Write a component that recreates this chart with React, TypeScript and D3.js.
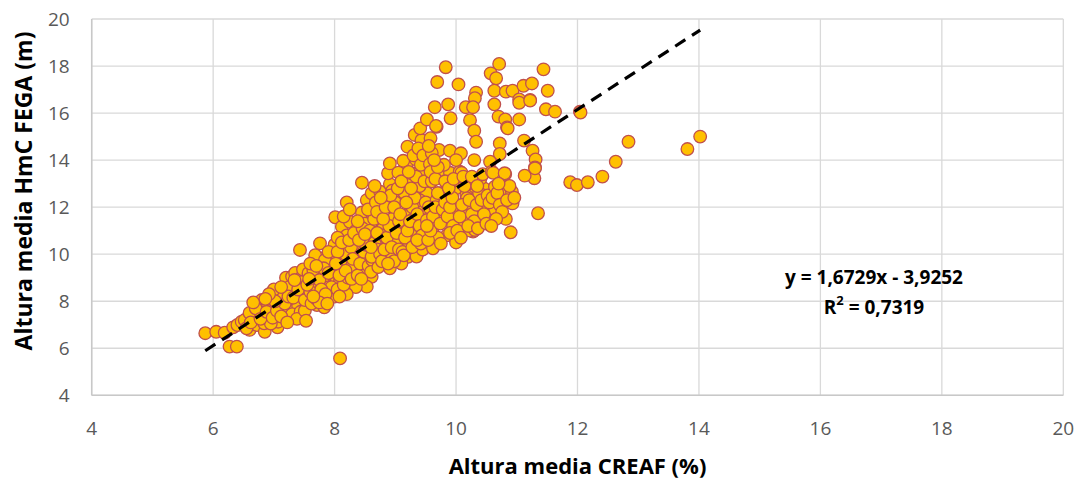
import React from 'react';
import * as d3 from 'd3';

// Altura media CREAF (x) vs Altura media HmC FEGA (y)
const lowBand: [number, number][] = [
  [5.87, 6.64], [6.05, 6.7], [6.19, 6.66], [6.27, 6.07], [6.39, 6.07], [6.33, 6.89], [6.4, 6.99],
  [6.47, 7.13], [6.52, 7.2], [6.6, 6.78], [6.69, 7.34], [6.72, 6.99], [6.85, 6.7], [6.84, 7.06],
  [6.8, 7.55], [6.94, 7.7], [6.8, 8.05], [6.9, 7.3], [7.06, 6.89], [7.07, 7.13], [6.96, 8.12],
  [7.1, 7.91], [7.22, 7.49], [7.27, 7.84], [7.29, 8.36], [7.38, 8.62], [7.36, 8.05], [7.27, 8.83],
  [7.18, 8.48], [7.2, 9.0], [7.3, 9.05], [7.43, 10.18], [7.0, 7.4], [6.75, 7.6], [6.6, 7.5],
  [6.9, 7.9], [7.15, 7.6], [7.4, 7.8], [7.45, 8.3], [7.35, 9.2], [7.45, 9.0], [7.1, 8.2],
  [6.55, 6.85], [6.95, 7.05], [7.2, 7.25], [7.3, 7.45], [7.48, 8.83], [7.25, 8.6], [7.0, 8.5],
  [6.62, 7.1], [6.7, 7.7], [6.78, 7.25], [6.88, 7.55], [6.98, 7.3], [7.05, 7.6], [7.12, 7.35],
  [7.18, 7.9], [7.24, 8.2], [7.32, 8.15], [7.4, 8.5], [7.44, 7.55], [7.38, 7.25], [7.12, 8.6],
  [7.02, 8.0], [6.92, 8.3], [7.22, 7.1], [7.48, 9.35], [7.34, 8.9], [6.66, 7.95], [6.86, 8.1],
];

const midBand: [number, number][] = [
  [7.51, 7.6], [7.53, 7.17], [7.51, 8.05], [7.57, 9.19], [7.69, 9.19], [7.66, 8.69], [7.72, 8.26],
  [7.87, 8.05], [7.71, 7.84], [7.83, 7.74], [7.92, 8.41], [7.92, 8.83], [8.03, 8.98], [8.12, 9.33],
  [8.12, 8.48], [7.79, 9.82], [7.92, 9.75], [8.03, 9.96], [8.17, 9.61], [7.68, 9.96], [7.76, 10.46],
  [8.01, 11.57], [8.12, 11.17], [8.25, 11.38], [8.45, 11.77], [8.45, 13.04], [8.2, 12.2], [8.53, 12.3],
  [7.84, 9.75], [7.65, 9.33], [8.09, 8.9], [8.2, 9.61], [8.34, 9.96], [8.31, 9.11], [8.45, 10.89],
  [8.61, 11.38], [8.61, 12.59], [8.75, 12.66], [8.64, 10.04], [8.69, 9.68], [8.61, 9.04], [8.53, 8.62],
  [8.3, 10.5], [8.15, 10.2], [8.4, 10.3], [8.0, 10.4], [7.9, 10.1], [8.25, 8.8], [8.4, 9.4],
  [8.35, 8.6], [8.2, 8.3], [8.5, 9.3], [8.0, 8.2], [7.95, 8.6], [8.1, 9.7], [8.35, 11.0],
  [8.2, 10.8], [8.5, 11.3], [8.05, 10.7], [7.85, 9.1], [7.6, 8.4], [7.75, 8.9], [7.55, 8.7],
  [8.45, 9.8], [8.55, 10.6], [8.3, 9.2], [8.1, 9.3],
  [7.62, 7.9], [7.7, 8.1], [7.78, 8.5], [7.85, 8.3], [7.6, 9.6], [7.82, 9.4], [7.7, 9.5], [7.9, 9.2],
  [7.58, 8.95], [7.75, 7.95], [7.65, 8.2], [7.88, 7.9], [8.05, 8.5], [8.15, 8.7], [8.22, 9.0],
  [8.28, 9.45], [8.08, 9.1], [8.18, 10.0], [8.27, 10.3], [8.05, 10.1], [8.12, 10.5], [8.24, 10.6],
  [8.3, 9.8], [8.18, 9.3], [8.02, 9.6], [8.28, 8.95], [8.15, 11.6], [8.25, 11.9], [8.32, 10.9],
  [8.08, 8.2], [8.38, 9.1], [8.42, 9.6], [8.48, 10.1], [8.52, 10.4], [8.56, 9.5], [8.62, 9.75],
  [8.66, 10.5], [8.7, 10.2], [8.4, 10.6], [8.46, 11.1], [8.58, 11.0], [8.65, 11.5], [8.55, 11.9],
  [8.68, 12.2], [8.38, 11.4], [8.5, 10.85], [8.6, 9.25], [8.72, 9.45], [8.44, 8.95], [8.66, 12.9],
];

const upperMidBand: [number, number][] = [
  [8.91, 12.98], [8.88, 13.44], [8.91, 13.86], [9.08, 13.44], [9.19, 13.86], [9.43, 13.44],
  [9.35, 12.59], [9.52, 12.59], [9.32, 12.16], [9.08, 12.44], [9.0, 11.81], [9.24, 11.74],
  [9.41, 11.03], [9.38, 10.1], [9.21, 9.89], [9.08, 9.82], [8.61, 9.89], [8.88, 10.46], [8.8, 11.1],
  [8.91, 9.4], [9.05, 10.6], [9.2, 10.4], [9.3, 10.04], [8.75, 10.0], [8.95, 11.5], [9.15, 11.2],
  [9.3, 11.5], [9.45, 11.38], [9.46, 11.88], [9.1, 12.9], [9.3, 13.1], [9.0, 12.2], [8.7, 11.8],
  [8.85, 12.3], [9.4, 12.9], [9.2, 14.57], [9.13, 13.97], [9.34, 14.03], [9.05, 13.47], [9.27, 13.44],
  [9.32, 15.07], [9.43, 14.85], [9.41, 15.35], [9.3, 14.2], [8.8, 10.8], [9.1, 9.6], [9.0, 10.0],
  [9.35, 9.9], [8.9, 9.9], [9.25, 10.9], [9.45, 10.2], [8.7, 10.9], [8.6, 10.3], [9.15, 12.6],
  [9.4, 12.3], [8.95, 12.7], [9.5, 11.45], [9.48, 10.6],
  [8.78, 9.7], [8.82, 10.2], [8.86, 10.7], [8.9, 11.2], [8.94, 10.3], [8.98, 9.7], [9.02, 10.9],
  [9.06, 11.4], [8.8, 11.5], [8.84, 12.0], [8.92, 12.5], [8.98, 12.0], [9.04, 12.8], [9.06, 10.2],
  [8.76, 12.4], [9.08, 11.7], [8.88, 9.6], [9.1, 13.1], [9.12, 10.1], [9.16, 10.7], [9.2, 11.0],
  [9.24, 11.4], [9.28, 12.0], [9.32, 12.4], [9.36, 11.7], [9.4, 11.2], [9.44, 10.8], [9.18, 12.2],
  [9.26, 12.8], [9.34, 13.3], [9.42, 13.8], [9.48, 13.1], [9.22, 13.5], [9.38, 14.5], [9.46, 14.2],
  [9.14, 9.95], [9.28, 10.3], [9.42, 10.45], [9.5, 12.2], [9.36, 10.6],
];

const upperBand: [number, number][] = [
  [9.52, 15.73], [9.65, 16.25], [9.87, 16.37], [9.91, 15.78], [9.68, 15.42], [9.58, 14.93],
  [9.72, 14.43], [9.9, 14.4], [10.08, 14.29], [9.57, 13.83], [9.74, 13.41], [9.9, 13.46],
  [10.06, 13.51], [10.09, 13.46], [9.83, 17.95], [9.69, 17.32], [10.04, 17.22], [10.33, 16.87],
  [10.31, 16.63], [10.16, 16.25], [10.28, 16.25], [10.23, 15.7], [10.3, 15.25], [10.33, 14.78],
  [9.67, 15.45], [9.68, 12.3], [9.85, 12.44], [9.98, 12.87], [9.98, 11.74], [9.79, 11.53],
  [9.52, 11.45], [9.63, 11.17], [9.63, 10.32], [9.62, 10.25], [9.76, 12.59], [10.0, 12.8],
  [10.17, 12.52], [10.17, 11.81], [10.31, 12.87], [10.28, 10.96], [10.23, 11.0], [10.05, 11.28],
  [10.18, 12.38], [10.31, 11.03], [10.46, 12.8], [10.5, 12.02], [10.64, 11.88], [10.2, 13.0],
  [9.9, 13.0], [9.6, 13.1], [10.4, 13.2], [10.1, 11.4], [10.4, 11.5], [9.85, 10.8], [10.0, 10.5],
  [9.7, 10.7], [9.55, 12.0], [9.75, 12.0], [10.0, 14.0], [9.8, 13.8], [10.3, 14.0],
  [9.54, 10.6], [9.58, 11.0], [9.62, 11.6], [9.66, 12.0], [9.7, 12.6], [9.74, 11.3], [9.78, 11.9],
  [9.82, 12.2], [9.86, 11.6], [9.9, 12.0], [9.94, 12.4], [9.58, 13.5], [9.66, 13.2], [9.7, 13.7],
  [9.82, 13.1], [9.88, 12.8], [9.95, 11.2], [9.6, 14.3], [9.55, 14.6], [9.64, 14.0], [9.75, 10.45],
  [9.9, 10.9], [9.96, 13.2], [9.52, 11.2], [10.02, 11.0], [10.06, 11.6], [10.1, 12.1], [10.14, 12.9],
  [10.22, 12.3], [10.26, 11.7], [10.3, 11.4], [10.34, 12.1], [10.38, 12.6], [10.42, 12.3],
  [10.46, 11.7], [10.12, 13.3], [10.26, 13.3], [10.35, 12.9], [10.44, 13.4], [10.2, 11.2],
  [10.08, 10.7], [10.36, 11.1], [10.5, 11.3], [10.52, 12.5],
];

const rightBand: [number, number][] = [
  [10.71, 18.09], [10.57, 17.69], [10.66, 17.48], [10.63, 16.95], [10.82, 16.91], [10.93, 16.95],
  [11.11, 17.16], [11.25, 17.26], [11.04, 16.58], [11.22, 16.56], [11.44, 17.86], [11.51, 16.95],
  [11.48, 16.16], [11.63, 16.06], [12.04, 16.06], [10.63, 16.37], [10.7, 15.85], [10.81, 15.73],
  [10.84, 15.39], [11.04, 15.73], [10.72, 14.71], [10.72, 14.26], [10.56, 13.93], [10.59, 13.51],
  [10.81, 13.41], [11.12, 14.83], [11.26, 14.4], [11.31, 14.03], [11.3, 13.69], [11.29, 13.23],
  [11.13, 13.34], [11.35, 11.74], [10.64, 12.87], [10.79, 12.8], [10.92, 12.66], [10.93, 12.16],
  [10.82, 11.5], [10.9, 10.93], [10.61, 13.46], [10.8, 13.44], [11.3, 13.65], [10.85, 15.35],
  [11.04, 16.44], [11.22, 16.53],
  [10.55, 12.2], [10.6, 12.4], [10.68, 12.6], [10.72, 12.1], [10.76, 11.8], [10.84, 12.3],
  [10.88, 12.9], [10.7, 13.0], [10.96, 12.4], [10.66, 11.5], [10.58, 11.2],
];

const outliers: [number, number][] = [
  [11.88, 13.06], [11.99, 12.94], [12.17, 13.06], [12.41, 13.3], [12.63, 13.93], [12.84, 14.78],
  [13.81, 14.47], [14.02, 15.0], [12.05, 16.02], [8.09, 5.57],
];

const xTicks = [4, 6, 8, 10, 12, 14, 16, 18, 20];
const yTicks = [4, 6, 8, 10, 12, 14, 16, 18, 20];

const slope = 1.6729;
const intercept = -3.9252;
const equationLabel = 'y = 1,6729x - 3,9252';
const r2Label = '0,7319';

const xTitle = 'Altura media CREAF (%)';
const yTitle = 'Altura media HmC FEGA (m)';

const W = 1081;
const H = 480;
const margin = { left: 91.7, right: W - 1063.3, top: 19, bottom: H - 395.3 };

const App = () => {
  const points = [...lowBand, ...midBand, ...upperMidBand, ...upperBand, ...rightBand, ...outliers];

  const x = d3.scaleLinear().domain([4, 20]).range([margin.left, W - margin.right]);
  const y = d3.scaleLinear().domain([4, 20]).range([H - margin.bottom, margin.top]);

  // la línea de tendencia va del x mínimo al x máximo
  const [xMin, xMax] = d3.extent(points, (d) => d[0]) as [number, number];
  const trend = d3.line<number>()
    .x((v) => x(v))
    .y((v) => y(slope * v + intercept));

  const font = "'Open Sans', 'Liberation Sans', sans-serif";

  return (
    <div style={{ position: 'absolute', left: 0, top: 0 }}>
      <svg width={W} height={H} style={{ display: 'block', background: '#fff' }}>
        {/* rejilla */}
        {xTicks.map((t) => (
          <line key={'gx' + t} x1={x(t)} x2={x(t)} y1={y(20)} y2={y(4)} stroke="#d9d9d9" strokeWidth={1.3} />
        ))}
        {yTicks.map((t) => (
          <line key={'gy' + t} x1={x(4)} x2={x(20)} y1={y(t)} y2={y(t)} stroke="#d9d9d9" strokeWidth={1.3} />
        ))}
        <line x1={x(4)} x2={x(20)} y1={y(4)} y2={y(4)} stroke="#c8c8c8" strokeWidth={1.5} />
        <line x1={x(4)} x2={x(4)} y1={y(20)} y2={y(4)} stroke="#c8c8c8" strokeWidth={1.5} />

        {/* etiquetas de ejes */}
        {yTicks.map((t) => (
          <text key={'ly' + t} x={x(4) - 22} y={y(t)} textAnchor="end" dominantBaseline="central"
            fontFamily={font} fontSize={19} fill="#595959">{t}</text>
        ))}
        {xTicks.map((t) => (
          <text key={'lx' + t} x={x(t)} y={428} textAnchor="middle" dominantBaseline="central"
            fontFamily={font} fontSize={19} fill="#595959">{t}</text>
        ))}

        {/* puntos */}
        {points.map((d, i) => (
          <circle key={i} cx={x(d[0])} cy={y(d[1])} r={6.3} fill="#ffc000" stroke="#c0504d" strokeWidth={1.3} />
        ))}

        {/* tendencia */}
        <path d={trend([xMin, xMax]) ?? ''} fill="none" stroke="#000" strokeWidth={3.2} strokeDasharray="12 8" />

        {/* ecuación */}
        <text x={874} y={277} textAnchor="middle" dominantBaseline="central" fontFamily={font}
          fontSize={19} fontWeight="bold" fill="#000">{equationLabel}</text>
        <text x={874} y={307} textAnchor="middle" dominantBaseline="central" fontFamily={font}
          fontSize={19} fontWeight="bold" fill="#000">R<tspan fontSize={13} dy={-7}>2</tspan><tspan dy={7}> = {r2Label}</tspan></text>

        {/* títulos */}
        <text x={x(12)} y={465} textAnchor="middle" dominantBaseline="central" fontFamily={font}
          fontSize={22} fontWeight="bold" fill="#000">{xTitle}</text>
        <text transform="translate(23,191) rotate(-90)" textAnchor="middle" dominantBaseline="central"
          fontFamily={font} fontSize={23} fontWeight="bold" fill="#000">{yTitle}</text>
      </svg>
    </div>
  );
};

export default App;
